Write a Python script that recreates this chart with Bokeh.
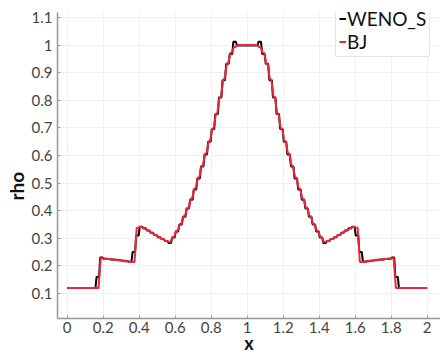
import numpy as np
from math import pi
from bokeh.plotting import figure
from bokeh.models import Range1d, Legend, LegendItem, Title, FixedTicker
from bokeh.embed import file_html
from bokeh.resources import INLINE

# cell left edges (dx = 0.02 on [0, 2])
x_left = list(np.round(np.arange(0.0, 1.99, 0.02), 2))
dx = 0.02

bj = [0.12]*9 + \
     [0.228, 0.226, 0.225, 0.223, 0.222, 0.220, 0.219, 0.217, 0.215, 0.214] + \
     [0.338, 0.341, 0.335, 0.328, 0.320, 0.312, 0.304, 0.297, 0.290] + \
     [0.287] + \
     [0.305, 0.327, 0.352, 0.380, 0.410, 0.443, 0.480, 0.520, 0.563, 0.607,
      0.652, 0.698, 0.752, 0.812, 0.875, 0.932, 0.972, 0.993] + \
     [1.0, 1.0, 1.0, 1.0, 1.0, 1.0] + \
     [0.993, 0.972, 0.932, 0.875, 0.812, 0.752, 0.698, 0.652, 0.607, 0.563,
      0.520, 0.480, 0.443, 0.410, 0.380, 0.352, 0.327, 0.305] + \
     [0.287] + \
     [0.290, 0.297, 0.304, 0.312, 0.320, 0.328, 0.335, 0.341, 0.338] + \
     [0.214, 0.215, 0.217, 0.219, 0.220, 0.222, 0.223, 0.225, 0.226, 0.228] + \
     [0.12]*9

weno = [0.12]*8 + [0.16] + \
       [0.230, 0.226, 0.225, 0.223, 0.222, 0.220, 0.219, 0.217, 0.215, 0.25] + \
       [0.31, 0.342, 0.336, 0.328, 0.320, 0.312, 0.304, 0.297, 0.290] + \
       [0.283] + \
       [0.303, 0.325, 0.350, 0.378, 0.408, 0.440, 0.477, 0.517, 0.560, 0.604,
        0.650, 0.696, 0.750, 0.810, 0.873, 0.932, 0.968, 1.012] + \
       [0.998, 0.998, 0.998, 0.998, 0.998, 0.998] + \
       [1.012, 0.968, 0.932, 0.873, 0.810, 0.750, 0.696, 0.650, 0.604, 0.560,
        0.517, 0.477, 0.440, 0.408, 0.378, 0.350, 0.325, 0.303] + \
       [0.283] + \
       [0.290, 0.297, 0.304, 0.312, 0.320, 0.328, 0.336, 0.342, 0.31] + \
       [0.25, 0.215, 0.217, 0.219, 0.220, 0.222, 0.223, 0.225, 0.226, 0.230] + \
       [0.16] + [0.12]*8

x_ticks = [0, 0.2, 0.4, 0.6, 0.8, 1, 1.2, 1.4, 1.6, 1.8, 2]
x_tick_labels = ["0", "0.2", "0.4", "0.6", "0.8", "1", "1.2", "1.4", "1.6", "1.8", "2"]
y_ticks = [0.1, 0.2, 0.3, 0.4, 0.5, 0.6, 0.7, 0.8, 0.9, 1, 1.1]
y_tick_labels = ["0.1", "0.2", "0.3", "0.4", "0.5", "0.6", "0.7", "0.8", "0.9", "1", "1.1"]

FONT = "Lato"


def sampled_line(left, vals, inset):
    """Cell values sampled along a line: flat near cell centre, ramps across edges."""
    xs, ys = [left[0]], [vals[0]]
    for e, v in zip(left, vals):
        xs += [e + inset, e + dx - inset]
        ys += [v, v]
    xs.append(left[-1] + dx)
    ys.append(vals[-1])
    return xs, ys


p = figure(width=440, height=357, output_backend="svg", toolbar_location=None,
           x_range=Range1d(-0.054, 2.074), y_range=Range1d(0.0094, 1.118),
           min_border_left=57, min_border_right=0, min_border_top=12, min_border_bottom=39)
p.outline_line_color = None
p.background_fill_color = "white"
p.border_fill_color = "white"

wx, wy = sampled_line(x_left, weno, 0.003)
bx, byy = sampled_line(x_left, bj, 0.006)
r1 = p.line(wx, wy, line_color="black", line_width=2)
r2 = p.line(bx, byy, line_color="#e8283c", line_width=2)

for ax in (p.xaxis[0], p.yaxis[0]):
    ax.axis_line_color = "#999999"
    ax.axis_line_width = 1.5
    ax.major_tick_line_color = "#999999"
    ax.major_tick_in = 3
    ax.major_tick_out = 0
    ax.minor_tick_line_color = None
    ax.major_label_text_font = FONT
    ax.major_label_text_font_size = "15px"
    ax.major_label_text_color = "#444444"

p.xaxis.ticker = FixedTicker(ticks=x_ticks)
p.xaxis.major_label_overrides = {t: l for t, l in zip(x_ticks, x_tick_labels)}
p.yaxis.ticker = FixedTicker(ticks=y_ticks)
p.yaxis.major_label_overrides = {t: l for t, l in zip(y_ticks, y_tick_labels)}
p.xaxis.major_label_standoff = 3
p.yaxis.major_label_standoff = 5

p.xaxis.axis_label = "x"
p.xaxis.axis_label_text_font = FONT
p.xaxis.axis_label_text_font_style = "bold"
p.xaxis.axis_label_text_font_size = "18px"
p.xaxis.axis_label_text_color = "#111111"
p.xaxis.axis_label_standoff = -4

p.add_layout(Title(text="rho", align="left", offset=118, standoff=2,
                   text_font=FONT, text_font_style="bold", text_font_size="19px",
                   text_color="#111111"), "left")

p.xgrid.grid_line_color = "#f0f0f0"
p.ygrid.grid_line_color = "#f0f0f0"

legend = Legend(items=[LegendItem(label="WENO_S", renderers=[r1]),
                       LegendItem(label="BJ", renderers=[r2])],
                location=(278, 261), orientation="vertical")
legend.glyph_width = 7
legend.glyph_height = 19
legend.label_height = 19
legend.label_standoff = 1
legend.spacing = 0
legend.padding = 3
legend.margin = 0
legend.label_text_font = FONT
legend.label_text_font_size = "19px"
legend.label_text_color = "#111111"
legend.border_line_color = "#cccccc"
legend.border_line_width = 1
legend.background_fill_color = "white"
legend.background_fill_alpha = 1.0
p.add_layout(legend)

open("out.html", "w").write(file_html(p, INLINE))
